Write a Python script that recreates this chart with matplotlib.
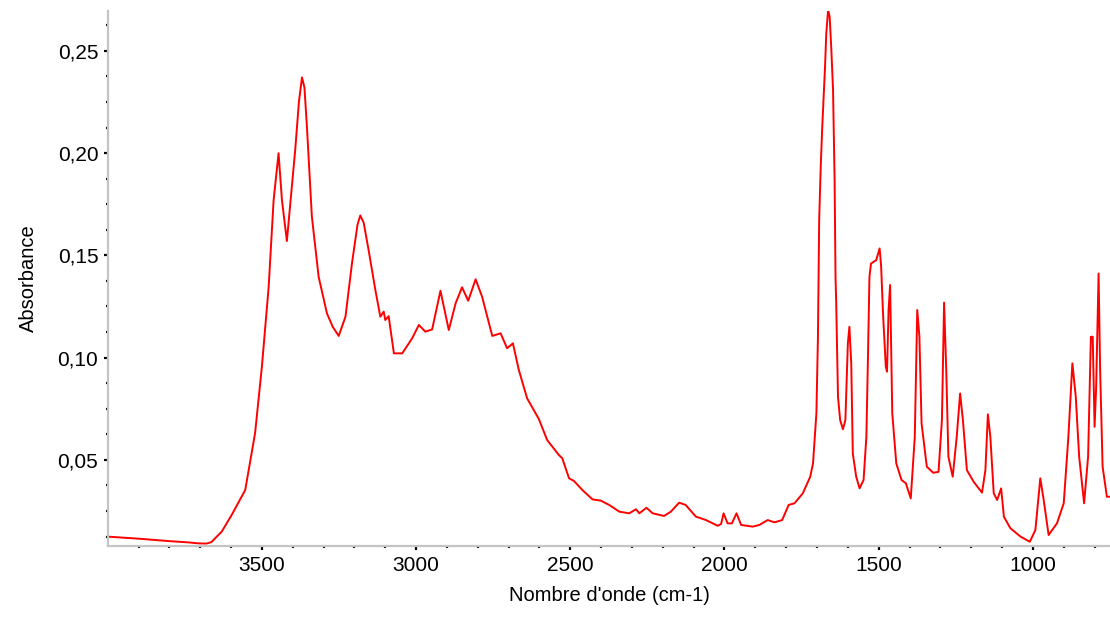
import matplotlib
matplotlib.use('Agg')
import matplotlib.pyplot as plt
from matplotlib.ticker import MultipleLocator, FuncFormatter

plt.rcParams['font.family'] = ['Liberation Sans', 'DejaVu Sans']

wavenumber = [4000, 3900, 3800, 3740, 3705, 3680, 3664, 3630, 3598, 3554, 3522, 3500, 3478, 3462,
              3446, 3435, 3419, 3405, 3392, 3380, 3370, 3362, 3354, 3338, 3316, 3289,
              3270, 3251, 3229, 3208, 3190, 3181, 3170, 3154, 3132, 3116, 3105, 3100,
              3089, 3072, 3045, 3013, 2991, 2970, 2948, 2921, 2894, 2872, 2851, 2831,
              2807, 2786, 2753, 2726, 2705, 2686, 2667, 2640, 2602, 2575, 2537, 2526,
              2504, 2488, 2461, 2428, 2401, 2374, 2341, 2309, 2287, 2276, 2253, 2233,
              2196, 2174, 2147, 2126, 2093, 2060, 2022, 2011, 2003, 1990, 1976, 1961,
              1946, 1909, 1887, 1860, 1838, 1813, 1792, 1773, 1746, 1722, 1713, 1702,
              1697, 1693, 1688, 1683, 1674, 1670, 1664, 1659, 1654, 1648, 1643, 1640,
              1638, 1632, 1625, 1616, 1608, 1600, 1595, 1589, 1584, 1573, 1562, 1549,
              1540, 1535, 1530, 1525, 1508, 1497, 1492, 1486, 1477, 1473, 1468, 1463,
              1456, 1443, 1426, 1412, 1396, 1383, 1375, 1368, 1361, 1344, 1323, 1306,
              1295, 1288, 1281, 1274, 1260, 1247, 1236, 1227, 1214, 1192, 1165, 1154,
              1146, 1138, 1127, 1116, 1103, 1094, 1073, 1040, 1010, 992, 976, 965,
              949, 922, 900, 885, 872, 861, 850, 834, 821, 812, 806, 800,
              795, 787, 782, 774, 760, 750]
absorbance = [0.0125, 0.0115, 0.0103, 0.0097, 0.0092, 0.0091, 0.0098, 0.0150, 0.0231, 0.0353, 0.0632, 0.0956, 0.1347, 0.1770,
              0.1999, 0.1770, 0.1570, 0.1800, 0.2015, 0.2250, 0.2370, 0.2320, 0.2129, 0.1690, 0.1395, 0.1216,
              0.1150, 0.1106, 0.1200, 0.1460, 0.1650, 0.1695, 0.1660, 0.1526, 0.1330, 0.1200, 0.1225, 0.1184,
              0.1203, 0.1021, 0.1021, 0.1094, 0.1160, 0.1127, 0.1138, 0.1327, 0.1135, 0.1265, 0.1344, 0.1278,
              0.1383, 0.1298, 0.1106, 0.1119, 0.1046, 0.1070, 0.0940, 0.0801, 0.0700, 0.0597, 0.0524, 0.0508,
              0.0410, 0.0397, 0.0353, 0.0307, 0.0301, 0.0280, 0.0247, 0.0239, 0.0259, 0.0239, 0.0266, 0.0239,
              0.0226, 0.0247, 0.0291, 0.0280, 0.0223, 0.0206, 0.0178, 0.0187, 0.0239, 0.0190, 0.0190, 0.0239,
              0.0182, 0.0174, 0.0182, 0.0206, 0.0195, 0.0206, 0.0280, 0.0288, 0.0337, 0.0418, 0.0483, 0.0728,
              0.1100, 0.1673, 0.1933, 0.2129, 0.2422, 0.2585, 0.2700, 0.2666, 0.2520, 0.2308, 0.1868, 0.1395,
              0.1282, 0.0809, 0.0695, 0.0650, 0.0695, 0.1070, 0.1151, 0.0972, 0.0532, 0.0418, 0.0361, 0.0402,
              0.0613, 0.0988, 0.1395, 0.1460, 0.1477, 0.1534, 0.1444, 0.1216, 0.0956, 0.0931, 0.1233, 0.1355,
              0.0728, 0.0483, 0.0402, 0.0386, 0.0312, 0.0613, 0.1233, 0.1102, 0.0679, 0.0467, 0.0437, 0.0442,
              0.0695, 0.1269, 0.0940, 0.0516, 0.0418, 0.0613, 0.0825, 0.0695, 0.0450, 0.0393, 0.0340, 0.0450,
              0.0723, 0.0613, 0.0337, 0.0304, 0.0361, 0.0222, 0.0166, 0.0125, 0.0100, 0.0157, 0.0410, 0.0304,
              0.0133, 0.0190, 0.0288, 0.0613, 0.0972, 0.0809, 0.0516, 0.0288, 0.0516, 0.1102, 0.1102, 0.0662,
              0.0850, 0.1411, 0.0940, 0.0467, 0.0320, 0.0320]

fig = plt.figure(figsize=(11.1, 6.17), dpi=100)
ax = fig.add_axes([0.0973, 0.115, 0.9027, 0.867])

ax.plot(wavenumber, absorbance, color='#ff0000', lw=1.4)

ax.set_xlim(3999, 750)
ax.set_ylim(0.0079, 0.2694)

ax.xaxis.set_major_locator(MultipleLocator(500))
ax.xaxis.set_minor_locator(MultipleLocator(100))
ax.yaxis.set_major_locator(MultipleLocator(0.05))
ax.yaxis.set_minor_locator(MultipleLocator(0.0125))
ax.yaxis.set_major_formatter(FuncFormatter(lambda v, p: ('%.2f' % v).replace('.', ',')))
ax.xaxis.set_major_formatter(FuncFormatter(lambda v, p: '%d' % v))

for s in ['top', 'right']:
    ax.spines[s].set_visible(False)
for s in ['left', 'bottom']:
    ax.spines[s].set_color('#c4c4c4')
    ax.spines[s].set_linewidth(1.6)

ax.tick_params(which='major', direction='out', length=3, width=1.6, color='black',
               labelsize=15, pad=4)
ax.tick_params(which='minor', direction='out', length=1.5, width=1.6, color='black')

ax.set_xlabel("Nombre d'onde (cm-1)", fontsize=14.5, labelpad=8)
ax.set_ylabel('Absorbance', fontsize=14.5, labelpad=14)

fig.savefig('out.png', dpi=100)
